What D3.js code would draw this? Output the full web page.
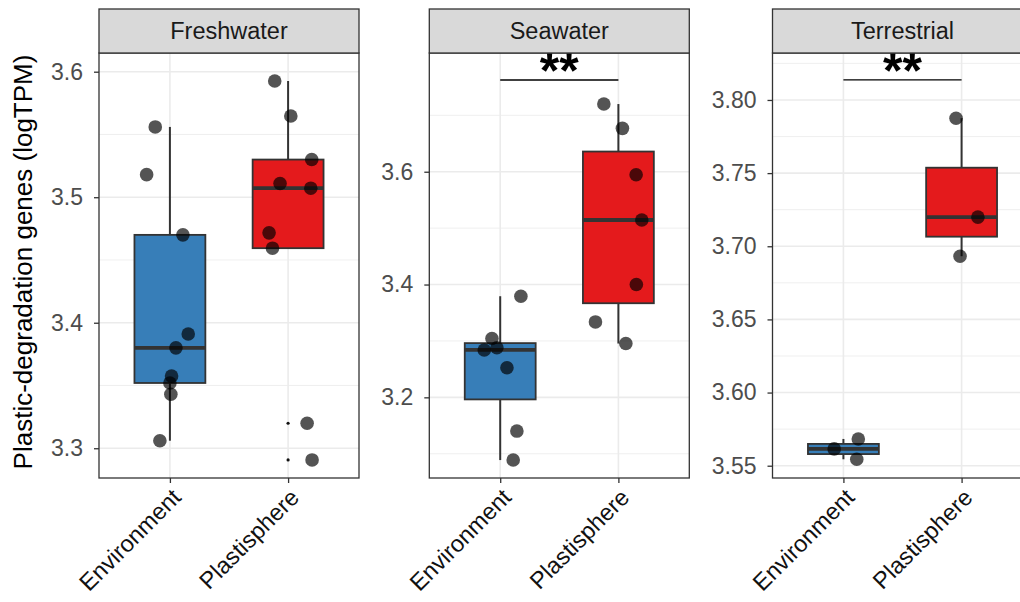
<!DOCTYPE html>
<html>
<head>
<meta charset="utf-8">
<script src="https://cdn.jsdelivr.net/npm/d3@7.9.0/dist/d3.min.js"></script>
<style>
  body { margin: 0; background: #fff; }
  svg { display: block; font-family: "Liberation Sans", Arial, sans-serif; }
</style>
</head>
<body>
<svg id="chart" width="1020" height="602"></svg>
<script>
// ========== Data ==========
const panels = ['Freshwater', 'Seawater', 'Terrestrial'];
const groups = ['Environment', 'Plastisphere'];
const groupColors = ['#377EB8', '#E41A1C'];

// logTPM per sample
const freshwaterEnv = [3.556, 3.518, 3.470, 3.391, 3.380, 3.3575, 3.352, 3.343, 3.306];
const freshwaterPla = [3.5926, 3.5647, 3.530, 3.5109, 3.5072, 3.4716, 3.4594, 3.3199, 3.2907];
const seawaterEnv = [3.3793, 3.3043, 3.284, 3.288, 3.2525, 3.1402, 3.0888];
const seawaterPla = [3.720, 3.6769, 3.5947, 3.5144, 3.400, 3.3337, 3.2954];
const terrestrialEnv = [3.5615, 3.5683, 3.5544];
const terrestrialPla = [3.7875, 3.7199, 3.6932];

// jitter of each point, in category units
const freshwaterEnvJit = [-0.124, -0.197, 0.110, 0.155, 0.051, 0.014, 0.0, 0.008, -0.085];
const freshwaterPlaJit = [-0.113, 0.023, 0.200, -0.068, 0.192, -0.161, -0.132, 0.161, 0.203];
const seawaterEnvJit = [0.175, -0.070, -0.135, -0.028, 0.057, 0.141, 0.110];
const seawaterPlaJit = [-0.123, 0.034, 0.150, 0.198, 0.152, -0.194, 0.063];
const terrestrialEnvJit = [-0.078, 0.126, 0.113];
const terrestrialPlaJit = [-0.047, 0.138, -0.013];

const values = [
  [freshwaterEnv, freshwaterPla],
  [seawaterEnv, seawaterPla],
  [terrestrialEnv, terrestrialPla]
];
const jitters = [
  [freshwaterEnvJit, freshwaterPlaJit],
  [seawaterEnvJit, seawaterPlaJit],
  [terrestrialEnvJit, terrestrialPlaJit]
];

// free y scales
const yDomains = [[3.2763, 3.6149], [3.057, 3.8105], [3.5416, 3.8321]];
const yTicks = [
  [3.3, 3.4, 3.5, 3.6],
  [3.2, 3.4, 3.6],
  [3.55, 3.60, 3.65, 3.70, 3.75, 3.80]
];
const yFormats = ['.1f', '.1f', '.2f'];

// significance bars
const sigY = [null, 3.7626, 3.8137];
const sigLabel = ['', '**', '**'];

const yTitle = 'Plastic-degradation genes (logTPM)';

// ========== Layout ==========
const svg = d3.select('#chart');
const panelLeft = [99, 429.3, 772.5];
const panelW = 260;
const stripTop = 9, panelTop = 53, panelBottom = 478;
const dark = '#333333';
const fontFam = '"Liberation Sans", Arial, sans-serif';

function boxStats(v) {
  const s = v.slice().sort(d3.ascending);
  const q1 = d3.quantile(s, 0.25), med = d3.quantile(s, 0.5), q3 = d3.quantile(s, 0.75);
  const iqr = q3 - q1;
  const inside = s.filter(d => d >= q1 - 1.5 * iqr && d <= q3 + 1.5 * iqr);
  return {
    q1, med, q3,
    lo: d3.min(inside), hi: d3.max(inside),
    out: s.filter(d => d < q1 - 1.5 * iqr || d > q3 + 1.5 * iqr)
  };
}

panels.forEach((name, p) => {
  const x0 = panelLeft[p];
  const x = d3.scalePoint().domain(groups).range([x0, x0 + panelW]).padding(0.6);
  const unit = x.step();
  const y = d3.scaleLinear().domain(yDomains[p]).range([panelBottom, panelTop]);
  const g = svg.append('g');

  // === grid ===
  const ticks = yTicks[p];
  const step = ticks[1] - ticks[0];
  const minor = [ticks[0] - step / 2]
    .concat(ticks.map(t => t + step / 2))
    .filter(t => t > yDomains[p][0] && t < yDomains[p][1]);

  g.selectAll('.minor').data(minor).join('line')
    .attr('x1', x0).attr('x2', x0 + panelW)
    .attr('y1', d => y(d)).attr('y2', d => y(d))
    .attr('stroke', '#EBEBEB').attr('stroke-width', 0.8);
  g.selectAll('.major').data(ticks).join('line')
    .attr('x1', x0).attr('x2', x0 + panelW)
    .attr('y1', d => y(d)).attr('y2', d => y(d))
    .attr('stroke', '#EBEBEB').attr('stroke-width', 1.6);
  g.selectAll('.vmajor').data(groups).join('line')
    .attr('x1', d => x(d)).attr('x2', d => x(d))
    .attr('y1', panelTop).attr('y2', panelBottom)
    .attr('stroke', '#EBEBEB').attr('stroke-width', 1.6);

  // === boxplots ===
  groups.forEach((grp, k) => {
    const st = boxStats(values[p][k]);
    const cx = x(grp);
    const bw = 0.6 * unit;
    g.append('line')
      .attr('x1', cx).attr('x2', cx)
      .attr('y1', y(st.q3)).attr('y2', y(st.hi))
      .attr('stroke', dark).attr('stroke-width', 2);
    g.append('line')
      .attr('x1', cx).attr('x2', cx)
      .attr('y1', y(st.q1)).attr('y2', y(st.lo))
      .attr('stroke', dark).attr('stroke-width', 2);
    g.append('rect')
      .attr('x', cx - bw / 2).attr('width', bw)
      .attr('y', y(st.q3)).attr('height', y(st.q1) - y(st.q3))
      .attr('fill', groupColors[k])
      .attr('stroke', dark).attr('stroke-width', 1.8);
    g.append('line')
      .attr('x1', cx - bw / 2).attr('x2', cx + bw / 2)
      .attr('y1', y(st.med)).attr('y2', y(st.med))
      .attr('stroke', dark).attr('stroke-width', 3.8);
    g.selectAll(null).data(st.out).join('circle')
      .attr('cx', cx).attr('cy', d => y(d)).attr('r', 1.6)
      .attr('fill', '#111');
  });

  // === jittered points ===
  groups.forEach((grp, k) => {
    g.selectAll(null).data(values[p][k]).join('circle')
      .attr('cx', (d, i) => x(grp) + jitters[p][k][i] * unit)
      .attr('cy', d => y(d))
      .attr('r', 6.8)
      .attr('fill', '#000')
      .attr('fill-opacity', 0.67);
  });

  // === significance ===
  if (sigY[p] !== null) {
    const sy = y(sigY[p]);
    g.append('line')
      .attr('x1', x(groups[0])).attr('x2', x(groups[1]))
      .attr('y1', sy).attr('y2', sy)
      .attr('stroke', '#000').attr('stroke-width', 1.3);
    g.append('text')
      .attr('x', (x(groups[0]) + x(groups[1])) / 2)
      .attr('y', sy + 8)
      .attr('text-anchor', 'middle')
      .attr('font-size', 50)
      .attr('font-weight', 'bold')
      .attr('fill', '#000')
      .text(sigLabel[p]);
  }

  // === panel border & strip ===
  g.append('rect')
    .attr('x', x0).attr('y', panelTop)
    .attr('width', panelW).attr('height', panelBottom - panelTop)
    .attr('fill', 'none').attr('stroke', dark).attr('stroke-width', 1.3);
  g.append('rect')
    .attr('x', x0).attr('y', stripTop)
    .attr('width', panelW).attr('height', panelTop - stripTop)
    .attr('fill', '#D9D9D9').attr('stroke', dark).attr('stroke-width', 1.3);
  g.append('text')
    .attr('x', x0 + panelW / 2).attr('y', (stripTop + panelTop) / 2)
    .attr('dy', '0.36em')
    .attr('text-anchor', 'middle')
    .attr('font-size', 23.5)
    .attr('fill', '#1A1A1A')
    .text(name);

  // === axes ===
  const ya = g.append('g')
    .attr('transform', `translate(${x0},0)`)
    .call(d3.axisLeft(y).tickValues(ticks).tickFormat(d3.format(yFormats[p]))
      .tickSize(5).tickPadding(11));
  ya.select('.domain').remove();
  ya.selectAll('line').attr('stroke', dark).attr('stroke-width', 1.3);
  ya.selectAll('text')
    .attr('font-size', 23)
    .attr('font-family', fontFam)
    .attr('fill', '#4D4D4D');

  const xa = g.append('g')
    .attr('transform', `translate(0,${panelBottom})`)
    .call(d3.axisBottom(x).tickSize(5));
  xa.select('.domain').remove();
  xa.selectAll('line').attr('stroke', dark).attr('stroke-width', 1.3);
  xa.selectAll('text')
    .attr('font-size', 23.5)
    .attr('font-family', fontFam)
    .attr('fill', '#111')
    .attr('text-anchor', 'end')
    .attr('y', 0)
    .attr('dy', '0.72em')
    .attr('transform', 'translate(0,9) rotate(-45)');
});

// === y title ===
svg.append('text')
  .attr('transform', 'translate(32,262) rotate(-90)')
  .attr('text-anchor', 'middle')
  .attr('font-size', 26)
  .attr('fill', '#000')
  .text(yTitle);
</script>
</body>
</html>
